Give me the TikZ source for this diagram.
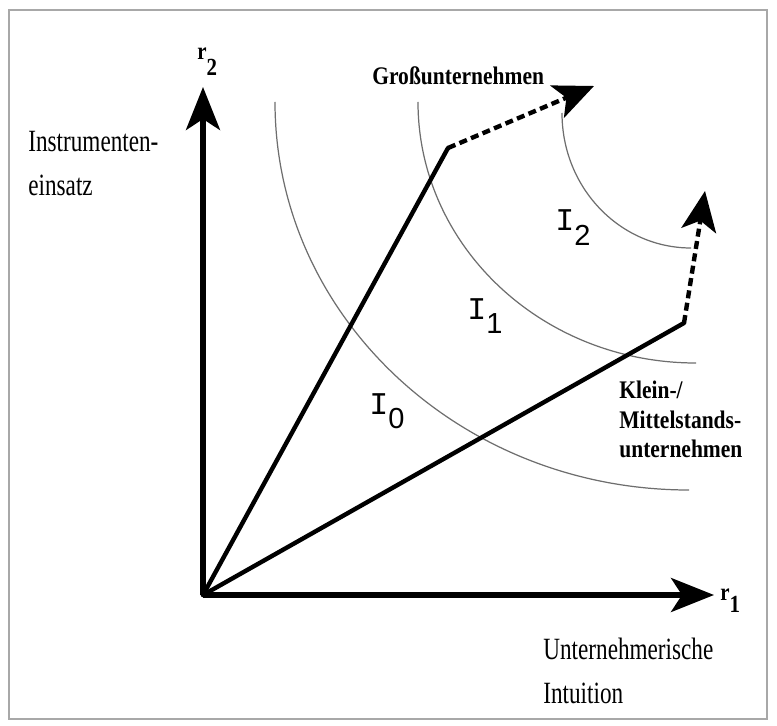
\documentclass[tikz,border=0pt]{standalone}
\usepackage{fontspec}
\setmainfont{Liberation Serif}
\newfontfamily\axisfont[FakeStretch=0.75]{Liberation Serif}
\newfontfamily\labelfont[FakeStretch=0.85]{Liberation Serif}
\newfontfamily\isofont{Liberation Mono}
\newfontfamily\digitfont{Liberation Sans}
\usetikzlibrary{arrows.meta}
\definecolor{curvegray}{HTML}{6E6E6E}
\definecolor{framegray}{HTML}{A8A8A8}
\newcommand{\isolabel}[1]{{\isofont I}\raisebox{-8.5pt}{\digitfont\fontsize{16.5}{18}\selectfont #1}}

\begin{document}
\begin{tikzpicture}[
  x=0.02cm, y=-0.02cm,
  axis/.style={-{Stealth[length=8.6mm,width=6.8mm,inset=2.2mm]},line width=2.9pt},
  ray/.style={line width=2.5pt,line cap=round},
  growth/.style={-{Stealth[length=8mm,width=7mm,inset=2mm]},line width=2.5pt,
    dash pattern=on 1.6mm off 0.9mm},
  isoquant/.style={draw=curvegray,line width=0.7pt},
  outerframe/.style={draw=framegray,line width=1pt},
  axistitle/.style={font=\axisfont\fontsize{17.6}{25}\selectfont,align=left,inner sep=0pt},
  firm/.style={font=\labelfont\bfseries\fontsize{14.4}{16.7}\selectfont,align=left,inner sep=0pt},
  isotext/.style={font=\isofont\fontsize{18}{20}\selectfont,inner sep=0pt,anchor=base west},
  axlabel/.style={font=\labelfont\bfseries\fontsize{14}{16}\selectfont,inner sep=0pt,anchor=base west}
]
\useasboundingbox (0,0) rectangle (777,726);
\draw[outerframe] (9,10) rectangle (767,719);

\coordinate (O) at (203,595);
\coordinate (r2end) at (203,87);
\coordinate (r1end) at (714,595);
\coordinate (grosskink) at (448,148);
\coordinate (grosstip) at (594,86);
\coordinate (kmukink) at (684,323);
\coordinate (kmutip) at (705,191);

% isoquants, quarter ellipses
\draw[isoquant] (275,102) .. controls (275,316) and (460,490) .. (689,490);
\draw[isoquant] (418,102) .. controls (418,246) and (542,363) .. (696,363);
\draw[isoquant] (562,113) .. controls (562,188) and (620,248) .. (691,248);

\draw[axis] (O) -- (r2end);
\draw[axis] (O) -- (r1end);
\draw[ray] (O) -- (grosskink);
\draw[ray] (O) -- (kmukink);
\draw[growth] (grosskink) -- (grosstip);
\draw[growth] (kmukink) -- (kmutip);

\node[axlabel] (r2label) at (197,60) {r\raisebox{-9pt}{2}};
\node[axlabel] (r1label) at (720,600) {r\raisebox{-7pt}{1}};
\node[axistitle,anchor=north west] (instr) at (28,131) {Instrumenten-\\einsatz};
\node[axistitle,anchor=north west] (intuit) at (543,638) {Unternehmerische\\Intuition};
\node[firm,anchor=base west] (grosslabel) at (372,85) {Großunternehmen};
\node[firm,anchor=north west] (kmulabel) at (619,381) {Klein-/\\Mittelstands-\\unternehmen};
\node[isotext] (i0) at (369,414) {\isolabel{0}};
\node[isotext] (i1) at (467,319) {\isolabel{1}};
\node[isotext] (i2) at (555,231) {\isolabel{2}};
\end{tikzpicture}
\end{document}
